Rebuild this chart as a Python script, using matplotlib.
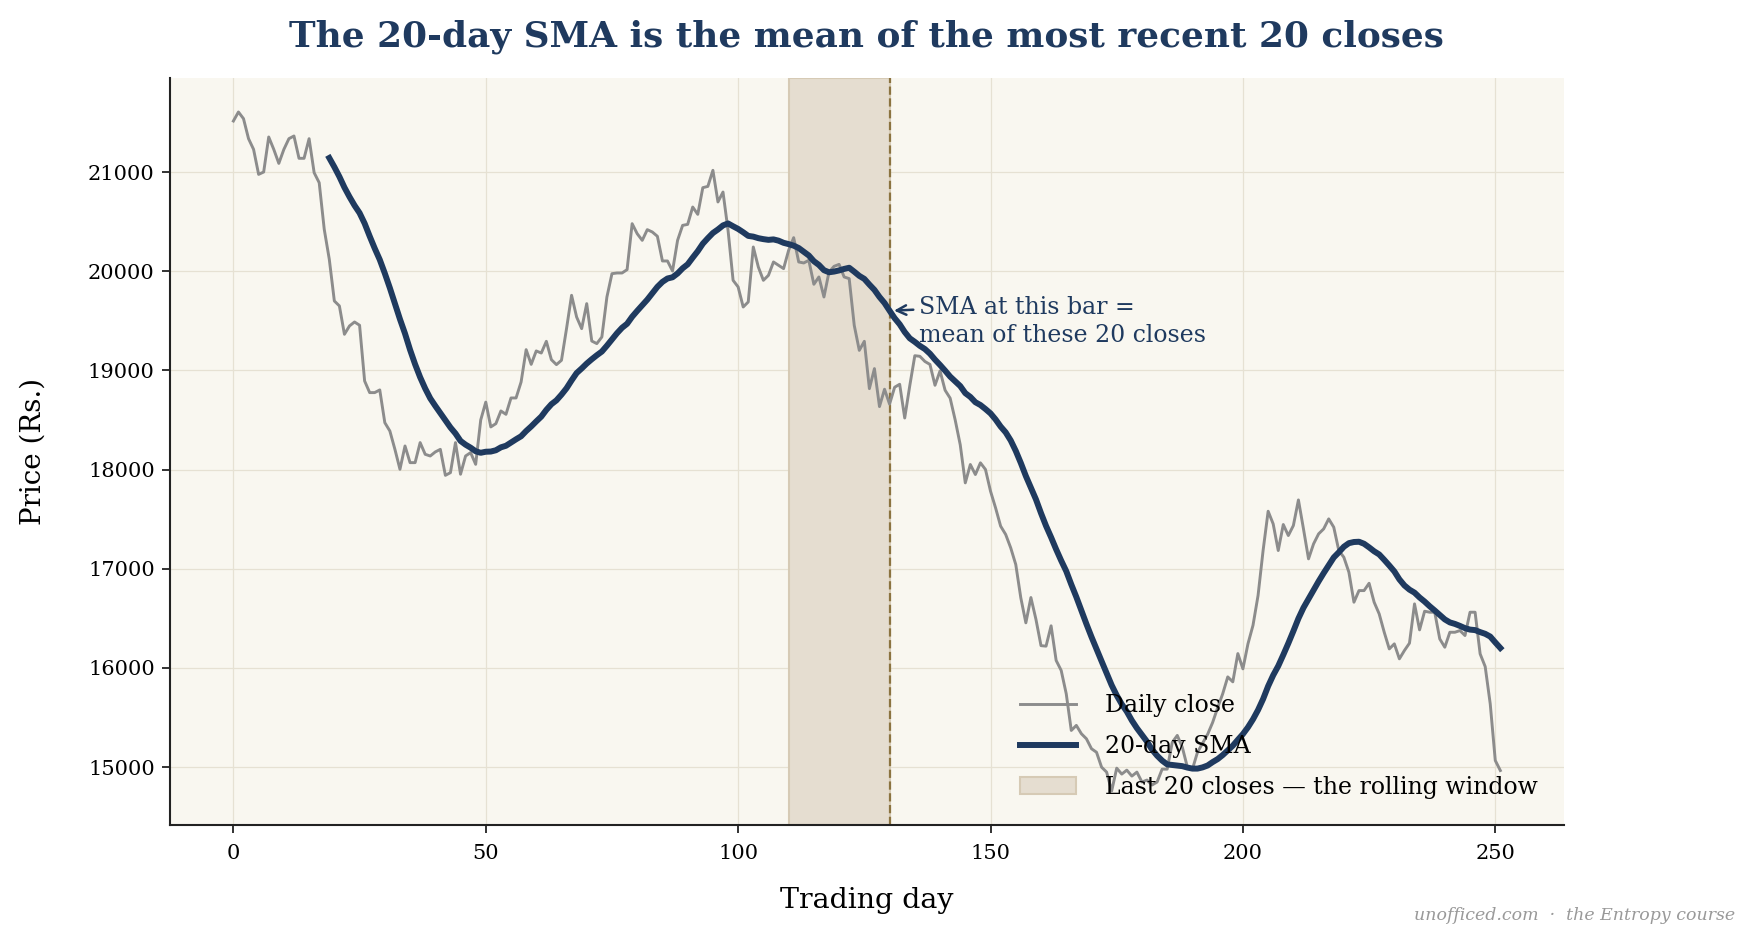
import matplotlib
matplotlib.use("Agg")
import matplotlib.pyplot as plt
import pandas as pd

# Daily closes (trading day 0..251)
closes = [
    21514, 21605, 21538, 21336, 21228, 20976, 21000, 21353, 21228, 21087,
    21228, 21336, 21363, 21138, 21138, 21336, 20993, 20892, 20422, 20120,
    19700, 19650, 19364, 19448, 19488, 19455, 18893, 18776, 18776, 18803,
    18473, 18389, 18204, 18003, 18238, 18070, 18070, 18272, 18154, 18137,
    18178, 18204, 17942, 17969, 18272, 17953, 18137, 18171, 18053, 18500,
    18680, 18430, 18463, 18591, 18557, 18722, 18722, 18883, 19209, 19061,
    19196, 19175, 19293, 19108, 19058, 19102, 19421, 19757, 19538, 19421,
    19673, 19296, 19270, 19337, 19740, 19975, 19982, 19982, 20016, 20479,
    20378, 20311, 20419, 20395, 20352, 20103, 20103, 20002, 20311, 20462,
    20472, 20647, 20573, 20842, 20855, 21017, 20698, 20798, 20412, 19908,
    19841, 19639, 19690, 20244, 20042, 19908, 19958, 20093, 20059, 20026,
    20210, 20338, 20093, 20083, 20110, 19868, 19942, 19740, 19992, 20049,
    20069, 19942, 19925, 19454, 19202, 19293, 18816, 19018, 18635, 18810,
    18660, 18830, 18860, 18520, 18845, 19148, 19142, 19090, 19060, 18850,
    18995, 18800, 18720, 18500, 18250, 17866, 18051, 17950, 18068, 18001,
    17782, 17614, 17430, 17346, 17211, 17043, 16707, 16455, 16710, 16490,
    16225, 16220, 16425, 16076, 15975, 15740, 15370, 15421, 15337, 15286,
    15186, 15150, 15000, 14950, 14760, 14990, 14930, 14970, 14910, 14950,
    14850, 14870, 14820, 14850, 14980, 14980, 15250, 15320, 15200, 15000,
    14980, 15150, 15240, 15330, 15450, 15600, 15740, 15910, 15860, 16145,
    15991, 16243, 16430, 16730, 17184, 17580, 17452, 17184, 17446, 17335,
    17436, 17694, 17402, 17100, 17251, 17352, 17402, 17503, 17419, 17184,
    17116, 16965, 16663, 16780, 16780, 16854, 16663, 16545, 16360, 16192,
    16243, 16092, 16176, 16250, 16646, 16384, 16572, 16562, 16562, 16293,
    16209, 16360, 16360, 16377, 16327, 16562, 16562, 16142, 16014, 15638,
    15067, 14966,
]
days = list(range(len(closes)))
window = 20
window_end = 130

navy = "#1f3a5f"
plt.rcParams["font.family"] = ["DejaVu Serif"]

sma = pd.Series(closes).rolling(window).mean()

fig = plt.figure(figsize=(17.53, 9.46), dpi=100, facecolor="white")
ax = fig.add_axes([0.097, 0.128, 0.795, 0.7895])
ax.set_facecolor("#f9f7f0")

# rolling window shading + marker line
ax.axvspan(window_end - window, window_end, facecolor="#e5ddd0", edgecolor="#d6cab5",
           linewidth=1.5, label="Last 20 closes \u2014 the rolling window", zorder=1)
ax.axvline(window_end, color="#8b7340", linestyle="--", linewidth=1.6, zorder=2)

ax.plot(days, closes, color="#8c8c8c", linewidth=2.1, label="Daily close", zorder=3)
ax.plot(days, sma, color=navy, linewidth=4.3, label="20-day SMA", zorder=4)

ax.annotate("SMA at this bar =\nmean of these 20 closes",
            xy=(window_end + 0.6, sma[window_end]), xytext=(window_end + 5.8, 19490),
            fontsize=17, color=navy, ha="left", va="center", linespacing=1.3,
            arrowprops=dict(arrowstyle="->", color=navy, lw=1.8, relpos=(0, 0.74),
                            shrinkA=2, shrinkB=1))

ax.set_title("The 20-day SMA is the mean of the most recent 20 closes",
             fontsize=25.8, fontweight="bold", color=navy, pad=23)
ax.set_xlabel("Trading day", fontsize=20.5, labelpad=17)
ax.set_ylabel("Price (Rs.)", fontsize=20, labelpad=30)
ax.tick_params(labelsize=15, length=6, width=1.3, color="#222222", pad=8)
ax.tick_params(axis="y", pad=5)

ax.grid(True, color="#e6e1d3", linewidth=0.9)
ax.set_axisbelow(True)
for side in ["top", "right"]:
    ax.spines[side].set_visible(False)
for side in ["left", "bottom"]:
    ax.spines[side].set_color("#222222")
    ax.spines[side].set_linewidth(1.5)

handles, labels = ax.get_legend_handles_labels()
order = [1, 2, 0]
ax.legend([handles[i] for i in order], [labels[i] for i in order], loc="lower right",
          frameon=False, fontsize=17, handlelength=2.4, handletextpad=1.2,
          labelspacing=0.76, borderaxespad=0.7)

fig.text(0.99, 0.028, "unofficed.com  \u00b7  the Entropy course", ha="right",
         fontsize=12.5, style="italic", color="#999999")

fig.savefig("out.png", dpi=100, facecolor="white")
